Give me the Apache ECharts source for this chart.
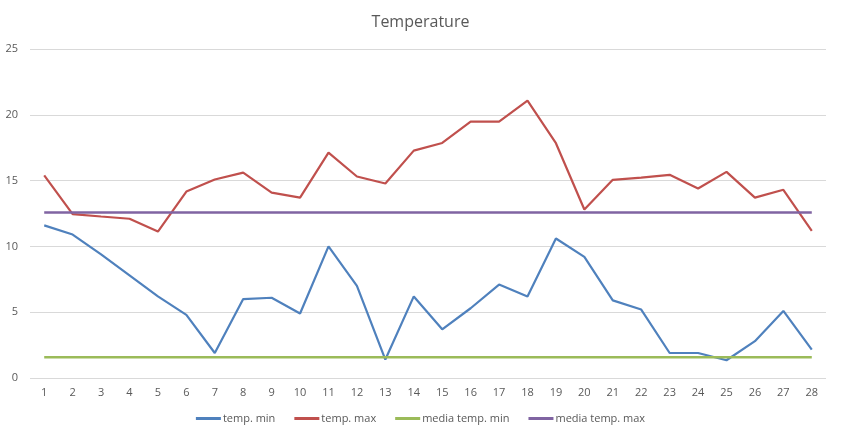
<!DOCTYPE html>
<html>
<head>
<meta charset="utf-8">
<script src="https://cdn.jsdelivr.net/npm/echarts@6/dist/echarts.min.js"></script>
<style>html,body{margin:0;padding:0;background:#fff}#c{width:841px;height:440px}</style>
</head>
<body>
<div id="c"></div>
<script>
var days = ['1','2','3','4','5','6','7','8','9','10','11','12','13','14','15','16','17','18','19','20','21','22','23','24','25','26','27','28'];
var tempMin = [11.6,10.9,9.4,7.8,6.2,4.8,1.9,6.0,6.1,4.9,10.0,7.0,1.4,6.2,3.7,5.3,7.1,6.2,10.6,9.2,5.9,5.2,1.9,1.9,1.35,2.8,5.1,2.15];
var tempMax = [15.4,12.45,12.27,12.1,11.13,14.17,15.08,15.61,14.09,13.71,17.13,15.31,14.78,17.28,17.86,19.48,19.48,21.08,17.84,12.8,15.06,15.23,15.44,14.4,15.66,13.71,14.3,11.18];
var mediaMin = 1.57;
var mediaMax = 12.58;
var yTicks = [0,5,10,15,20,25];
var names = ['temp. min','temp. max','media temp. min','media temp. max'];

var mediaMinArr = days.map(function(){return mediaMin;});
var mediaMaxArr = days.map(function(){return mediaMax;});

var chart = echarts.init(document.getElementById('c'), null, {renderer:'canvas'});
var font = '"Open Sans", sans-serif';
function ln(name, data, color, w){
  return {name:name, type:'line', data:data, symbol:'none', smooth:false,
    lineStyle:{color:color, width:w}, itemStyle:{color:color}, animation:false};
}
chart.setOption({
  animation:false,
  title:{text:'Temperature', left:'center', top:9,
    textStyle:{fontFamily:font, fontSize:16, fontWeight:'normal', color:'#595959'}},
  grid:{left:30, top:49, width:796, height:329, containLabel:false},
  legend:{bottom:11, left:'center', itemWidth:25, itemHeight:3, itemGap:19, icon:'rect',
    textStyle:{fontFamily:font, fontSize:11, color:'#595959', padding:[0,0,0,-3]},
    data:names},
  xAxis:{type:'category', data:days, boundaryGap:true,
    axisLine:{show:false}, axisTick:{show:false},
    axisLabel:{fontFamily:font, fontSize:11, color:'#595959', margin:9}},
  yAxis:{type:'value', min:yTicks[0], max:yTicks[yTicks.length-1], interval:5,
    axisLine:{show:false}, axisTick:{show:false},
    axisLabel:{fontFamily:font, fontSize:11, color:'#595959', margin:12},
    splitLine:{lineStyle:{color:'#d9d9d9', width:1}}},
  series:[
    ln(names[0], tempMin, '#4F81BD', 2.2),
    ln(names[1], tempMax, '#C0504D', 2.2),
    ln(names[2], mediaMinArr, '#9BBB59', 2.5),
    ln(names[3], mediaMaxArr, '#8064A2', 2.5)
  ]
});
</script>
</body>
</html>
